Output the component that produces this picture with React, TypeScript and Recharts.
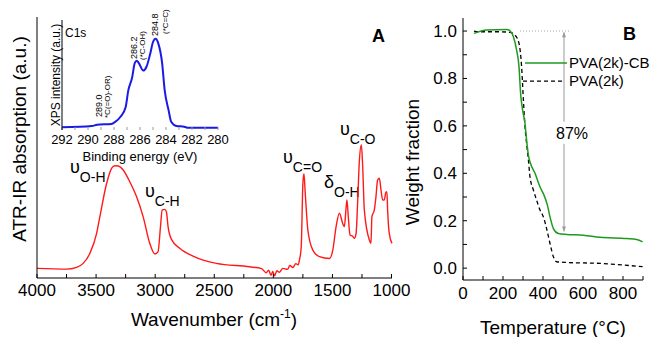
import { Line, LineChart, ReferenceLine, XAxis, YAxis } from 'recharts'

// panel A: ATR-IR spectrum (wavenumber in cm-1, absorption in arbitrary units)
const irWavenumber = [
  4000, 3750, 3665, 3609, 3552, 3496, 3468, 3412, 3369, 3341, 3313, 3271, 3215, 3158, 3102, 3046, 3003, 2976,
  2955, 2941, 2919, 2905, 2891, 2862, 2792, 2680, 2482, 2201, 2100, 2060, 2040, 2020, 2005, 1990, 1970, 1950,
  1920, 1880, 1860, 1835, 1810, 1790, 1779, 1764, 1750, 1741, 1730, 1708, 1666, 1610, 1525, 1497, 1469, 1441,
  1413, 1399, 1385, 1377, 1366, 1351, 1329, 1315, 1300, 1286, 1272, 1255, 1244, 1230, 1188, 1174, 1166, 1146,
  1132, 1118, 1103, 1089, 1075, 1061, 1047, 1039, 1033, 1019, 996,
]
const irAbsorption = [
  3.7, 3.4, 4.1, 5.6, 9.5, 17, 23.5, 36, 42, 43, 42.9, 41.4, 36.9, 31.2, 23.5, 13.3, 9.2, 10, 19.7, 26, 26.3,
  25.4, 19.7, 14.8, 11.4, 8.4, 5.6, 4.3, 3.6, 2.0, 3.0, 1.0, 2.5, 0.8, 2.8, 2.2, 3.7, 3.3, 4.8, 4.0, 5.5, 5.0,
  6.9, 12, 36.3, 40, 32.4, 18.4, 10.7, 8.2, 7.5, 10.7, 19.7, 24.8, 20.9, 19.7, 26.7, 29.9, 23.5, 16.5, 16, 15.2,
  17, 29.9, 45, 51, 42.6, 26, 14.6, 13.3, 23.5, 26, 31, 37.5, 38.2, 33.7, 29.9, 29.9, 33, 33, 26, 17, 13.3,
]
const irTicks = [1000, 1250, 1500, 1750, 2000, 2250, 2500, 2750, 3000, 3250, 3500, 3750, 4000]

// inset: XPS C1s spectrum
const xpsEnergy = [
  292, 289.7, 289.3, 288.2, 287.9, 287.5, 287.1, 286.9, 286.6, 286.4, 286.25, 286.1, 285.75, 285.5, 285.2, 285.0,
  284.8, 284.6, 284.3, 284.1, 283.8, 283.6, 283.2, 282.6, 282.3, 280,
]
const xpsIntensity = [
  2.5, 3.6, 4.8, 5.5, 7.5, 12, 21, 36, 48, 61, 63, 61, 54, 57.5, 70, 80, 83, 79, 61, 36, 18, 7.5, 3.6, 3, 2, 2,
]
const xpsTicks = [280, 281, 282, 283, 284, 285, 286, 287, 288, 289, 290, 291, 292]

// panel B: TGA curves
const cbTemp = [55, 118, 218, 235, 252, 268, 280, 288, 298, 310, 318, 327, 338, 360, 385, 405, 422, 435, 452, 477, 518, 602, 685, 818, 868, 898]
const cbWeight = [
  0.99, 1.004, 1.007, 1.001, 0.976, 0.92, 0.85, 0.737, 0.667, 0.61, 0.54, 0.477, 0.44, 0.4, 0.343, 0.308, 0.266,
  0.216, 0.167, 0.146, 0.142, 0.139, 0.13, 0.125, 0.121, 0.111,
]
const pvaTemp = [55, 85, 185, 235, 260, 280, 293, 302, 310, 318, 327, 335, 352, 368, 385, 402, 418, 435, 452, 468, 518, 685, 898]
const pvaWeight = [
  1.0, 0.997, 0.997, 0.994, 0.983, 0.948, 0.85, 0.709, 0.596, 0.526, 0.456, 0.385, 0.329, 0.287, 0.245, 0.216,
  0.167, 0.104, 0.048, 0.027, 0.024, 0.02, 0.006,
]
const tempTicks = [0, 100, 200, 300, 400, 500, 600, 700, 800, 900]
const weightTicks = [0, 0.1, 0.2, 0.3, 0.4, 0.5, 0.6, 0.7, 0.8, 0.9, 1.0]

const FONT = '"Liberation Sans", Arial, sans-serif'

const irData = irWavenumber.map((w, i) => ({ w, a: irAbsorption[i] }))
const xpsData = xpsEnergy.map((e, i) => ({ e, v: xpsIntensity[i] }))
const cbData = cbTemp.map((t, i) => ({ t, w: cbWeight[i] }))
const pvaData = pvaTemp.map((t, i) => ({ t, w: pvaWeight[i] }))

function Peak({ x, y, sym, sub, symSize = 18 }: { x: number; y: number; sym: string; sub: string; symSize?: number }) {
  return (
    <text x={x} y={y} fontSize={symSize} fill="#000">
      {sym}
      <tspan fontSize={14} dy={9}>
        {sub}
      </tspan>
    </text>
  )
}

function Vtext({ x, y, size, children, anchor = 'start' }: any) {
  return (
    <text x={x} y={y} fontSize={size} fill="#000" textAnchor={anchor} transform={`rotate(-90 ${x} ${y})`}>
      {children}
    </text>
  )
}

function SpectrumPanel() {
  return (
    <LineChart width={420} height={337} data={irData} margin={{ top: 17, right: 28, bottom: 0, left: 0 }}>
      <XAxis
        dataKey="w"
        type="number"
        domain={[1000, 4000]}
        reversed
        ticks={irTicks}
        interval={0}
        tickFormatter={(v) => (v % 500 === 0 ? String(v) : '')}
        tickSize={-4}
        tickMargin={10}
        height={59}
        axisLine={{ stroke: '#000' }}
        tickLine={{ stroke: '#000' }}
        tick={{ fill: '#000', fontSize: 17 }}
      />
      <YAxis type="number" domain={[0, 100]} tick={false} tickLine={false} width={37} axisLine={{ stroke: '#000' }} />
      <Line type="monotone" dataKey="a" stroke="#ff1a1a" strokeWidth={1.4} dot={false} isAnimationActive={false} />
      <text x={26} y={139} fontSize={19} textAnchor="middle" transform="rotate(-90 26 139)" fill="#000">
        ATR-IR absorption (a.u.)
      </text>
      <text x={214} y={326} fontSize={19} textAnchor="middle" fill="#000">
        Wavenumber (cm
        <tspan fontSize={12} dy={-8}>
          -1
        </tspan>
        <tspan dy={8}>)</tspan>
      </text>
      <text x={372} y={42} fontSize={18} fontWeight="bold" fill="#000">
        A
      </text>
      <Peak x={70} y={173} sym="υ" sub="O-H" />
      <Peak x={145} y={197} sym="υ" sub="C-H" />
      <Peak x={283} y={163} sym="υ" sub="C=O" />
      <Peak x={324} y={188} sym="δ" sub="O-H" />
      <Peak x={340} y={135} sym="υ" sub="C-O" />
    </LineChart>
  )
}

function XpsInset() {
  return (
    <LineChart width={230} height={170} data={xpsData} margin={{ top: 20, right: 12, bottom: 0, left: 0 }}>
      <XAxis
        dataKey="e"
        type="number"
        domain={[280, 292]}
        reversed
        ticks={xpsTicks}
        interval={0}
        tickFormatter={(v) => (v % 2 === 0 ? String(v) : '')}
        tickSize={-3}
        tickMargin={8}
        height={40}
        axisLine={false}
        tickLine={{ stroke: '#999' }}
        tick={{ fill: '#000', fontSize: 13 }}
      />
      <YAxis type="number" domain={[0, 100]} tick={false} tickLine={false} width={62} axisLine={{ stroke: '#000' }} />
      <Line type="monotone" dataKey="v" stroke="#1a1ae6" strokeWidth={2} dot={false} isAnimationActive={false} />
      <Vtext x={60} y={75} size={12} anchor="middle">
        XPS intensity (a.u.)
      </Vtext>
      <text x={140} y={161} fontSize={13} textAnchor="middle" fill="#000">
        Binding energy (eV)
      </text>
      <text x={65} y={37} fontSize={12} fill="#000">
        C1s
      </text>
      <Vtext x={102} y={117} size={9}>289.0</Vtext>
      <Vtext x={110} y={118} size={8}>*C(=O)-OR)</Vtext>
      <Vtext x={137} y={59} size={9}>286.2</Vtext>
      <Vtext x={145} y={60} size={8}>(*C-OH)</Vtext>
      <Vtext x={158} y={36} size={9}>284.8</Vtext>
      <Vtext x={168} y={34} size={8}>(*C=C)</Vtext>
    </LineChart>
  )
}

function ArrowShape(p: any) {
  const x = p.x1
  const top = Math.min(p.y1, p.y2)
  const bottom = Math.max(p.y1, p.y2)
  const mid = (top + bottom) / 2
  return (
    <g>
      <line x1={x} y1={top} x2={x} y2={mid - 10} stroke="#999" />
      <line x1={x} y1={mid + 12} x2={x} y2={bottom} stroke="#999" />
      <path d={`M${x},${top} l-2,5 l4,0 z`} fill="#999" />
      <path d={`M${x},${bottom} l-2,-5 l4,0 z`} fill="#999" />
      <text x={x + 8} y={mid + 7} fontSize={16} textAnchor="middle" fill="#000">
        87%
      </text>
    </g>
  )
}

function TgaPanel() {
  return (
    <LineChart width={254} height={337} margin={{ top: 18, right: 11, bottom: 0, left: 0 }}>
      <XAxis
        dataKey="t"
        type="number"
        domain={[0, 900]}
        ticks={tempTicks}
        interval={0}
        tickFormatter={(v) => (v % 200 === 0 ? String(v) : '')}
        tickSize={-4}
        tickMargin={11}
        height={57}
        axisLine={{ stroke: '#000' }}
        tickLine={{ stroke: '#000' }}
        tick={{ fill: '#000', fontSize: 17 }}
      />
      <YAxis
        type="number"
        domain={[-0.05, 1.055]}
        ticks={weightTicks}
        interval={0}
        tickFormatter={(v) => (Math.round(v * 10) % 2 === 0 ? v.toFixed(1) : '')}
        tickSize={-4}
        tickMargin={10}
        width={63}
        axisLine={{ stroke: '#000' }}
        tickLine={{ stroke: '#000' }}
        tick={{ fill: '#000', fontSize: 17 }}
      />
      <ReferenceLine
        segment={[
          { x: 285, y: 1.0 },
          { x: 540, y: 1.0 },
        ]}
        stroke="#aaa"
        strokeDasharray="1 2"
      />
      <ReferenceLine
        segment={[
          { x: 505, y: 0.995 },
          { x: 505, y: 0.155 },
        ]}
        shape={ArrowShape}
      />
      <ReferenceLine
        segment={[
          { x: 310, y: 0.865 },
          { x: 520, y: 0.865 },
        ]}
        stroke="#1f9a1f"
        strokeWidth={1.5}
        label={{ value: 'PVA(2k)-CB', position: 'right', offset: 2, fontSize: 15, fill: '#000' }}
      />
      <ReferenceLine
        segment={[
          { x: 300, y: 0.789 },
          { x: 510, y: 0.789 },
        ]}
        stroke="#000"
        strokeWidth={1.3}
        strokeDasharray="4 3"
        label={{ value: 'PVA(2k)', position: 'right', offset: 4, fontSize: 15, fill: '#000' }}
      />
      <Line data={pvaData} type="monotone" dataKey="w" stroke="#000" strokeWidth={1.3} strokeDasharray="4 3" dot={false} isAnimationActive={false} />
      <Line data={cbData} type="monotone" dataKey="w" stroke="#1f9a1f" strokeWidth={1.5} dot={false} isAnimationActive={false} />
      <text x={19} y={162} fontSize={19} textAnchor="middle" transform="rotate(-90 19 162)" fill="#000">
        Weight fraction
      </text>
      <text x={153} y={334} fontSize={19} textAnchor="middle" fill="#000">
        Temperature (°C)
      </text>
      <text x={223} y={40} fontSize={18} fontWeight="bold" fill="#000">
        B
      </text>
    </LineChart>
  )
}

export default function App() {
  return (
    <div style={{ position: 'absolute', left: 0, top: 0, width: 654, height: 337, background: '#fff', fontFamily: FONT }}>
      <div style={{ position: 'absolute', left: 0, top: 0 }}>
        <SpectrumPanel />
      </div>
      <div style={{ position: 'absolute', left: 0, top: 0 }}>
        <XpsInset />
      </div>
      <div style={{ position: 'absolute', left: 400, top: 0 }}>
        <TgaPanel />
      </div>
    </div>
  )
}
